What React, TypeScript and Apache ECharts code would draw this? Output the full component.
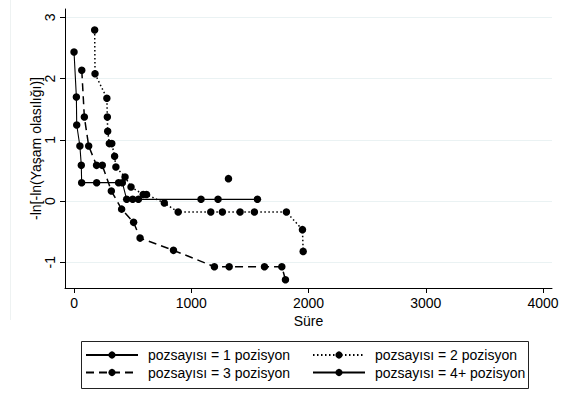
import React, { useEffect, useRef } from "react";
import * as echarts from "echarts";

const seriesNames = [
  "pozsayısı = 1 pozisyon",
  "pozsayısı = 2 pozisyon",
  "pozsayısı = 3 pozisyon",
  "pozsayısı = 4+ pozisyon",
];

// pozsayısı = 1
const s1X = [0, 20, 23, 50, 62, 65, 193, 380, 412, 449, 500, 549, 1083, 1228, 1564];
const s1Y = [2.435, 1.7, 1.242, 0.899, 0.583, 0.3, 0.3, 0.3, 0.3, 0.028, 0.028, 0.028, 0.028, 0.028, 0.028];

// pozsayısı = 2
const s2X = [176, 179, 280, 284, 287, 301, 322, 346, 357, 435, 486, 590, 618, 770, 888, 1166, 1265, 1416, 1538, 1811, 1948, 1954];
const s2Y = [2.794, 2.078, 1.678, 1.373, 1.139, 0.938, 0.938, 0.73, 0.556, 0.392, 0.229, 0.107, 0.107, -0.033, -0.18, -0.18, -0.18, -0.18, -0.18, -0.18, -0.467, -0.822];

// pozsayısı = 3
const s3X = [66, 88, 125, 192, 241, 318, 406, 508, 563, 848, 1197, 1323, 1624, 1772, 1803];
const s3Y = [2.136, 1.373, 0.899, 0.583, 0.583, 0.165, -0.132, -0.348, -0.605, -0.805, -1.072, -1.072, -1.072, -1.072, -1.284];

// pozsayısı = 4+
const s4X = [1317];
const s4Y = [0.366];

const xTicks = [0, 1000, 2000, 3000, 4000];
const yTicks = [-1, 0, 1, 2, 3];

const FONT = "'Liberation Sans', Arial, Helvetica, sans-serif";

function pairs(xs: number[], ys: number[]) {
  return xs.map((x, i) => [x, ys[i]]);
}

export default function App() {
  const ref = useRef<HTMLDivElement>(null);
  useEffect(() => {
    if (!ref.current) return;
    const chart = echarts.init(ref.current, null, { renderer: "svg" });
    const lineStyles: any[] = [
      { color: "#000", width: 1.1, type: "solid" },
      { color: "#000", width: 1.5, type: [1.5, 2.5] },
      { color: "#000", width: 1.5, type: [8, 5] },
      { color: "#000", width: 2.2, type: "solid" },
    ];
    const datas = [pairs(s1X, s1Y), pairs(s2X, s2Y), pairs(s3X, s3Y), pairs(s4X, s4Y)];
    const legendPos = [
      { left: 85, top: 348 },
      { left: 312, top: 348 },
      { left: 85, top: 365.5 },
      { left: 312, top: 365.5 },
    ];
    const option: any = {
      animation: false,
      backgroundColor: "#fff",
      textStyle: { fontFamily: FONT },
      grid: { left: 65, right: 14, top: 9, bottom: 112, containLabel: false },
      xAxis: {
        type: "value",
        min: -77,
        max: 4076,
        name: "Süre",
        nameLocation: "middle",
        nameGap: 26,
        nameMoveOverlap: false,
        nameTextStyle: { fontSize: 14, color: "#000", fontFamily: FONT },
        axisLine: { show: true, onZero: false, lineStyle: { color: "#000", width: 1 } },
        axisTick: { show: true, length: 5, customValues: xTicks, lineStyle: { color: "#000" } },
        axisLabel: {
          customValues: xTicks,
          fontSize: 14,
          color: "#000",
          margin: 7.5,
          fontFamily: FONT,
          formatter: (v: number) => String(v),
        },
        splitLine: { show: false },
      },
      yAxis: {
        type: "value",
        min: -1.42,
        max: 3.136,
        name: "-ln[-ln(Yaşam olasılığı)]",
        nameLocation: "middle",
        nameRotate: 90,
        nameGap: 22,
        nameMoveOverlap: false,
        nameTextStyle: { fontSize: 14, color: "#000", fontFamily: FONT },
        axisLine: { show: true, onZero: false, lineStyle: { color: "#000", width: 1 } },
        axisTick: { show: true, length: 5, customValues: yTicks, lineStyle: { color: "#000" } },
        axisLabel: {
          customValues: yTicks,
          rotate: 90,
          fontSize: 14,
          color: "#000",
          margin: 8,
          fontFamily: FONT,
          formatter: (v: number) => String(v),
        },
        splitLine: { show: true, lineStyle: { color: "#eaf2f3", width: 1 } },
      },
      legend: seriesNames.map((n, i) => ({
        data: [n],
        left: legendPos[i].left,
        top: legendPos[i].top,
        orient: "horizontal",
        itemWidth: 52,
        itemHeight: 9,
        padding: 0,
        selectedMode: false,
        textStyle: { fontSize: 14, color: "#000", fontFamily: FONT, padding: [0, 0, 0, 5] },
      })),
      graphic: [
        {
          type: "line",
          shape: { x1: 10.5, y1: 0, x2: 10.5, y2: 320 },
          style: { stroke: "#eef2f2", lineWidth: 1 },
          silent: true,
        },
        {
          type: "rect",
          shape: { x: 81.5, y: 341.5, width: 447, height: 47 },
          style: { fill: "none", stroke: "#222", lineWidth: 1 },
          silent: true,
        },
      ],
      series: seriesNames.map((n, i) => ({
        name: n,
        type: "line",
        data: datas[i],
        symbol: "circle",
        symbolSize: 7.5,
        itemStyle: { color: "#000" },
        lineStyle: lineStyles[i],
        silent: true,
      })),
    };
    chart.setOption(option);
    return () => chart.dispose();
  }, []);
  return (
    <div
      ref={ref}
      style={{ position: "fixed", left: 0, top: 0, width: 566, height: 400, background: "#fff" }}
    />
  );
}
